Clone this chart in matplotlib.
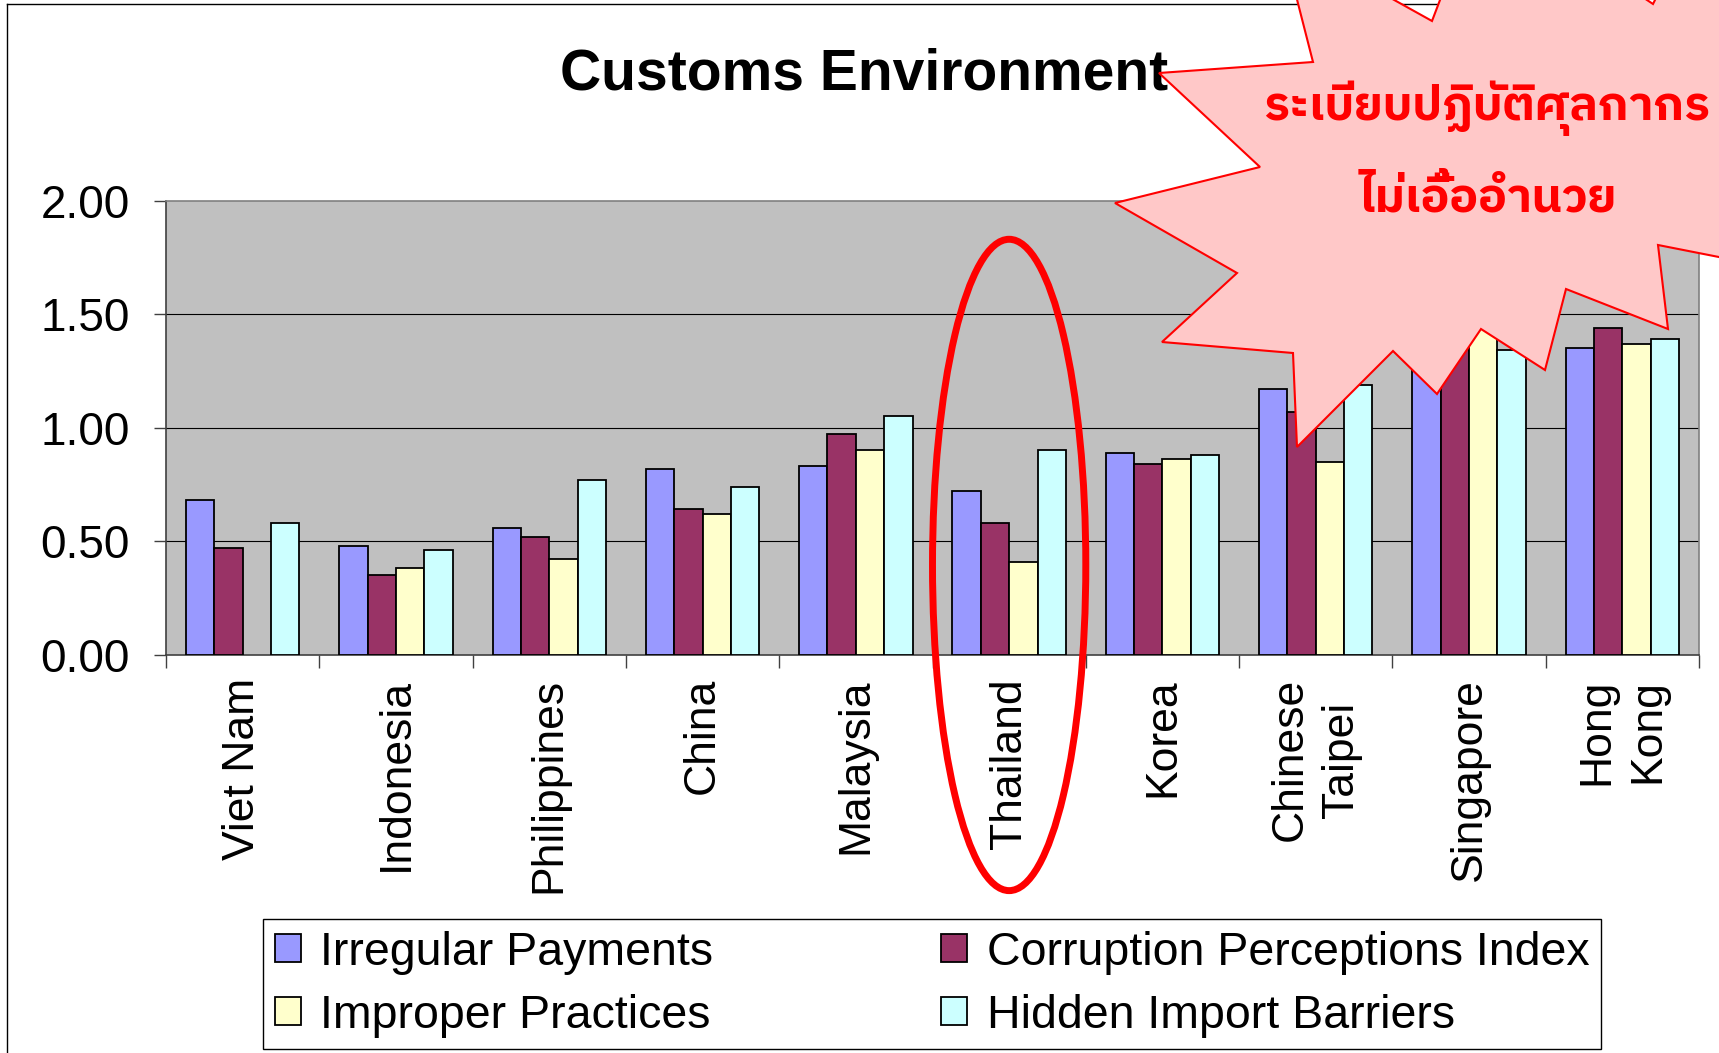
import numpy as np
import matplotlib
matplotlib.use("Agg")
import matplotlib.pyplot as plt
import matplotlib.transforms as mtransforms
from matplotlib import font_manager as fm
from matplotlib.ft2font import FT2Font
from matplotlib.patches import Polygon, Ellipse, Patch

plt.rcParams["font.family"] = ["Liberation Sans", "DejaVu Sans"]

countries = ["Viet Nam", "Indonesia", "Philippines", "China", "Malaysia",
             "Thailand", "Korea", "Chinese\nTaipei", "Singapore", "Hong\nKong"]
irregular = [0.68, 0.48, 0.56, 0.82, 0.83, 0.72, 0.89, 1.17, 1.30, 1.35]
corruption = [0.47, 0.35, 0.52, 0.64, 0.97, 0.58, 0.84, 1.07, 1.40, 1.44]
improper = [np.nan, 0.38, 0.42, 0.62, 0.90, 0.41, 0.86, 0.85, 1.44, 1.37]
hidden = [0.58, 0.46, 0.77, 0.74, 1.05, 0.90, 0.88, 1.19, 1.34, 1.39]
series_names = ["Irregular Payments", "Corruption Perceptions Index",
                "Improper Practices", "Hidden Import Barriers"]
series_colors = ["#9999FF", "#993366", "#FFFFCC", "#CCFFFF"]
y_ticks = [0.0, 0.5, 1.0, 1.5, 2.0]

title = "Customs Environment"
callout = ["ระเบียบปฏิบัติศุลกากร", "ไม่เอื้ออำนวย"]

W, H = 1719, 1053


def find_thai_font():
    # first installed face that covers Thai, bold preferred
    found = []
    for f in fm.fontManager.ttflist:
        try:
            cmap = FT2Font(f.fname).get_charmap()
        except Exception:
            continue
        if 0x0E23 in cmap and 0x0E1B in cmap:
            found.append(f)
    if not found:
        return None
    found.sort(key=lambda f: (0 if "Thai" in f.name else 1,
                              0 if str(f.weight) in ("bold", "700") else 1))
    return found[0].name


fig = plt.figure(figsize=(W / 100, H / 100), dpi=100)
px = mtransforms.Affine2D().scale(1 / W, -1 / H).translate(0, 1) + fig.transFigure

ax = fig.add_axes([166 / W, 1 - 654.6 / H, (1699 - 166) / W, (654.6 - 200.7) / H])
ax.set_facecolor("#C0C0C0")

x = np.arange(len(countries))
bw = 0.185
for i, (vals, name, col) in enumerate(zip([irregular, corruption, improper, hidden],
                                          series_names, series_colors)):
    ax.bar(x + (i - 1.5) * bw, vals, width=bw, color=col, edgecolor="black",
           linewidth=1.3, label=name, zorder=3)

ax.set_xlim(-0.5, len(countries) - 0.5)
ax.set_ylim(0, 2)
ax.set_yticks(y_ticks)
ax.set_yticklabels([f"{v:.2f}" for v in y_ticks])
for v in y_ticks[1:-1]:
    ax.axhline(v, color="black", lw=0.8, zorder=1)

ax.set_xticks(x)
ax.set_xticklabels(countries, rotation=90, ha="center", va="top",
                   multialignment="center", linespacing=1.3)
ax.set_xticks(np.arange(len(countries) + 1) - 0.5, minor=True)
ax.tick_params(axis="x", which="major", length=0, pad=17, labelsize=32)
ax.tick_params(axis="x", which="minor", length=9, width=1, direction="out", color="#404040")
ax.tick_params(axis="y", length=9, width=1, direction="out", pad=17, labelsize=33,
               color="#404040")
for s in ["top", "right"]:
    ax.spines[s].set_color("#808080")
    ax.spines[s].set_linewidth(1.2)
for s in ["left", "bottom"]:
    ax.spines[s].set_color("#404040")
    ax.spines[s].set_linewidth(1.2)

# chart area border
fig.add_artist(plt.Line2D([7, W + 5], [4, 4], transform=px, color="black", lw=1))
fig.add_artist(plt.Line2D([7, 7], [4, H + 5], transform=px, color="black", lw=1))

fig.text(864, 90, title, transform=px, ha="center", va="baseline",
         fontsize=41, fontweight="bold")

handles = [Patch(facecolor=c, edgecolor="black", linewidth=1.3) for c in series_colors]
order = [0, 2, 1, 3]
leg = fig.legend([handles[i] for i in order], [series_names[i] for i in order],
                 ncol=2, loc="upper left", bbox_to_anchor=(263 / W, 1 - 919 / H),
                 bbox_transform=fig.transFigure, fontsize=33.5, frameon=True,
                 fancybox=False, framealpha=1, edgecolor="black",
                 handlelength=0.56, handleheight=0.56, handletextpad=0.42,
                 columnspacing=4.9, borderpad=0.25, labelspacing=0.41,
                 borderaxespad=0)
leg.get_frame().set_linewidth(1.0)

# red ring around Thailand
ax.add_patch(Ellipse((5, 0.395), 1.0, 2.87, fill=False, edgecolor="red",
                     lw=5, zorder=10, clip_on=False))

# starburst callout
star = [(1281, -63), (1313, 62), (1159, 73), (1260, 167), (1115, 203), (1237, 273),
        (1162, 342), (1293, 353), (1297, 447), (1393, 351), (1437, 394), (1481, 329),
        (1545, 370), (1566, 289), (1668, 329), (1658, 245), (1800, 273), (1800, -20),
        (1665, -20), (1653, 4), (1482, -110), (1432, 21)]
fig.add_artist(Polygon(star, closed=True, transform=px, facecolor="#FFC8C8",
                       edgecolor="red", lw=1.5, zorder=20))

thai = find_thai_font()
fam = [thai, "DejaVu Sans"] if thai else ["DejaVu Sans"]
targets = [(1487, 108, 448), (1488, 198, 257)]
texts = []
for s, (tx, ty, tw) in zip(callout, targets):
    t = fig.text(tx, ty, s, transform=px, ha="center", va="center", color="red",
                 fontsize=40, fontweight="bold", family=fam, zorder=21)
    texts.append((t, tw))
fig.canvas.draw()
for t, tw in texts:
    w = t.get_window_extent().width
    if w > 0:
        t.set_fontsize(40 * tw / w)

fig.savefig("out.png", dpi=100)
